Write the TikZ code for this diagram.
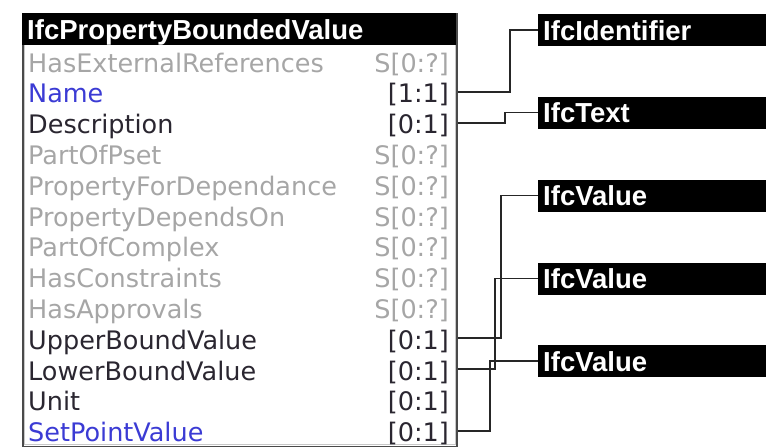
\documentclass[tikz,border=0pt]{standalone}
\usepackage{fontspec}
\setmainfont{DejaVu Sans}
\newfontfamily\headfont{Liberation Sans}
\usetikzlibrary{calc}

\definecolor{inheritgrey}{HTML}{A6A6A6}
\definecolor{ownblue}{HTML}{3B3BD4}
\definecolor{owndark}{HTML}{2A2630}
\definecolor{framegrey}{HTML}{4A4A4A}
\definecolor{innergrey}{HTML}{C8C8C8}
\definecolor{linkgrey}{HTML}{262626}

\begin{document}
\begin{tikzpicture}[x=1pt,y=-1pt,
  attr/.style={anchor=base west, inner sep=0pt, font=\fontsize{25.5}{30}\selectfont},
  card/.style={anchor=base east, inner sep=0pt, font=\fontsize{25.5}{30}\selectfont},
  entity/.style={fill=black, text=white, inner xsep=5pt, inner ysep=3pt,
    text height=23pt, text depth=3pt, align=left,
    font=\headfont\bfseries\fontsize{27.5}{32}\selectfont},
  link/.style={draw=linkgrey, line width=1.9pt}
]
\useasboundingbox (0,0) rectangle (766,447);

% entity frame with its attribute list
\node[draw=framegrey, line width=1.8pt, anchor=north west,
      minimum width=434pt, minimum height=432.5pt, inner sep=0pt] (cls) at (22,13) {};
\draw[innergrey, line width=0.8pt] ($(cls.north west)+(2.8,2.8)$) rectangle ($(cls.south east)+(-2.8,-2.8)$);
\node[entity, anchor=north west, text width=424pt] (hdr) at (22,13) {IfcPropertyBoundedValue};

\foreach \lbl/\lcol/\crd/\ccol [count=\i from 0] in {
  HasExternalReferences/inheritgrey/{S[0:?]}/inheritgrey,
  Name/ownblue/{[1:1]}/owndark,
  Description/owndark/{[0:1]}/owndark,
  PartOfPset/inheritgrey/{S[0:?]}/inheritgrey,
  PropertyForDependance/inheritgrey/{S[0:?]}/inheritgrey,
  PropertyDependsOn/inheritgrey/{S[0:?]}/inheritgrey,
  PartOfComplex/inheritgrey/{S[0:?]}/inheritgrey,
  HasConstraints/inheritgrey/{S[0:?]}/inheritgrey,
  HasApprovals/inheritgrey/{S[0:?]}/inheritgrey,
  UpperBoundValue/owndark/{[0:1]}/owndark,
  LowerBoundValue/owndark/{[0:1]}/owndark,
  Unit/owndark/{[0:1]}/owndark,
  SetPointValue/ownblue/{[0:1]}/owndark}
{
  \node[attr, text=\lcol] (r\i) at (28,72+30.8*\i) {\lbl};
  \node[card, text=\ccol] (c\i) at (449,72+30.8*\i) {\crd};
}

% referenced types
\node[entity, anchor=west, text width=218pt] (idf) at (538,30) {IfcIdentifier};
\node[entity, anchor=west, text width=218pt] (txt) at (538,112.5) {IfcText};
\node[entity, anchor=west, text width=218pt] (val1) at (538,195.5) {IfcValue};
\node[entity, anchor=west, text width=218pt] (val2) at (538,278.5) {IfcValue};
\node[entity, anchor=west, text width=218pt] (val3) at (538,361) {IfcValue};

% attribute outlets on the frame edge
\coordinate (oName)  at ($(c1.base -| cls.east)+(0,-11)$);
\coordinate (oDesc)  at ($(c2.base -| cls.east)+(0,-11)$);
\coordinate (oUpper) at ($(c9.base -| cls.east)+(0,-11)$);
\coordinate (oLower) at ($(c10.base -| cls.east)+(0,-11)$);
\coordinate (oSet)   at ($(c12.base -| cls.east)+(0,-11)$);

% connectors
\draw[link] (oName)  -- ++(52,0) |- (idf.west);
\draw[link] (oDesc)  -- ++(47,0) |- (txt.west);
\draw[link] (oUpper) -- ++(43,0) |- (val1.west);
\draw[link] (oLower) -- ++(37,0) |- (val2.west);
\draw[link] (oSet)   -- ++(32,0) |- (val3.west);
\end{tikzpicture}
\end{document}
